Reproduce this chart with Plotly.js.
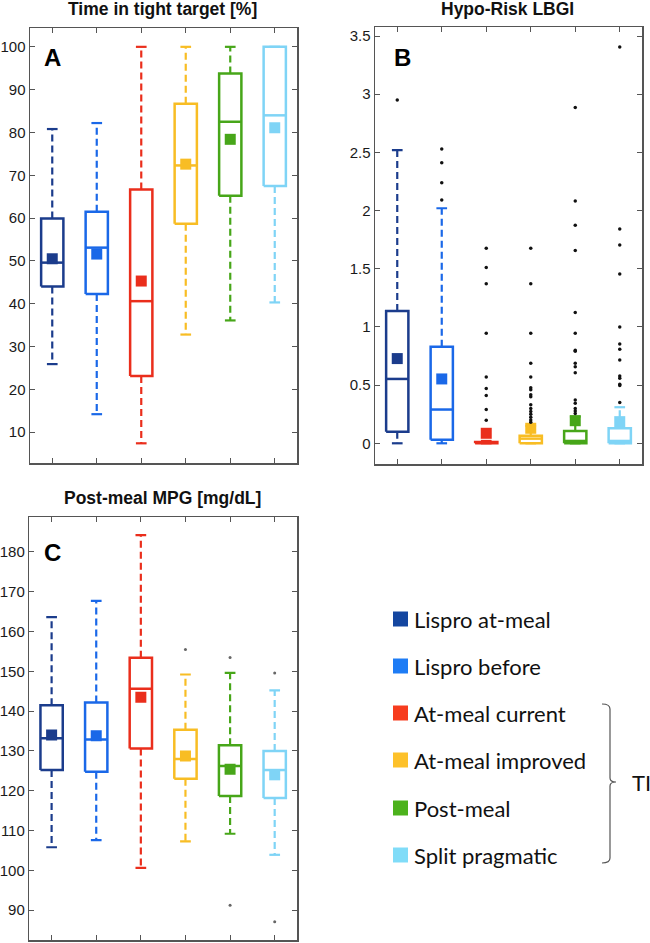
<!DOCTYPE html>
<html>
<head>
<meta charset="utf-8">
<script src="https://cdn.plot.ly/plotly-3.0.1.min.js"></script>
<style>html,body{margin:0;padding:0;background:#fff;}#chart{width:650px;height:943px;}</style>
</head>
<body>
<div id="chart"></div>
<script>
// ---------------- DATA ----------------
const categories = ['Lispro at-meal', 'Lispro before', 'At-meal current', 'At-meal improved', 'Post-meal', 'Split pragmatic'];

// Panel A: Time in tight target [%]
const ttLow  = [25.9, 14.2, 7.4, 32.8, 36.1, 40.3];
const ttQ1   = [44.0, 42.3, 23.1, 58.7, 65.2, 67.5];
const ttMed  = [49.6, 53.1, 40.6, 72.3, 82.5, 84.0];
const ttQ3   = [59.9, 61.5, 66.7, 86.7, 93.8, 100];
const ttHigh = [80.8, 82.2, 100, 100, 100, 100];
const ttMean = [50.5, 51.6, 45.3, 72.6, 78.4, 81.1];
const ttOut  = [[], [], [], [], [], []];

// Panel B: Hypo-Risk LBGI
const lbLow  = [0, 0, 0, 0, 0, 0];
const lbQ1   = [0.10, 0.03, 0, 0, 0, 0];
const lbMed  = [0.553, 0.29, 0.005, 0.04, 0.02, 0.02];
const lbQ3   = [1.137, 0.83, 0.012, 0.065, 0.105, 0.13];
const lbHigh = [2.52, 2.02, 0.02, 0.15, 0.23, 0.31];
const lbMean = [0.728, 0.553, 0.086, 0.129, 0.194, 0.186];
const lbOut1 = [2.95];
const lbOut2 = [2.53, 2.41, 2.24, 2.09];
const lbOut3 = [1.676, 1.51, 1.372, 0.945, 0.57, 0.47, 0.41, 0.29, 0.198];
const lbOut4 = [1.676, 1.372, 0.945, 0.687, 0.57, 0.478, 0.46, 0.417, 0.40, 0.331, 0.30, 0.274, 0.25, 0.223, 0.20, 0.18];
const lbOut5 = [2.885, 2.083, 1.873, 1.656, 1.123, 0.945, 0.80, 0.79, 0.687, 0.657, 0.607, 0.372, 0.344, 0.30, 0.277, 0.257];
const lbOut6 = [3.406, 1.842, 1.704, 1.455, 1.0, 0.854, 0.808, 0.716, 0.579, 0.559, 0.507, 0.496, 0.351];
const lbOut  = [lbOut1, lbOut2, lbOut3, lbOut4, lbOut5, lbOut6];

// Panel C: Post-meal MPG [mg/dL]
const mpgLow  = [105.8, 107.6, 100.6, 107.3, 109.2, 103.9];
const mpgQ1   = [125.2, 124.8, 130.6, 123.0, 118.7, 118.2];
const mpgMed  = [133.2, 132.9, 145.6, 128.0, 126.2, 125.2];
const mpgQ3   = [141.5, 142.2, 153.4, 135.3, 131.4, 130.0];
const mpgHigh = [163.6, 167.7, 184.2, 149.2, 149.6, 145.2];
const mpgMean = [134.0, 133.8, 143.5, 128.7, 125.4, 124.0];
const mpgOut  = [[], [], [], [155.5], [153.5, 91.2], [149.6, 87.1]];

const panelTitles = ['Time in tight target [%]', 'Hypo-Risk LBGI', 'Post-meal MPG [mg/dL]'];
const panelLetters = ['A', 'B', 'C'];
const bracketLabel = 'TI';

// ---------------- STYLE ----------------
const boxColors    = ['#1b3c8c', '#1a68e8', '#ea2e1c', '#f8bd24', '#47a619', '#7fd4f6'];
const legendColors = ['#1446a0', '#1e7cf5', '#f73c1e', '#fdc12a', '#4cb21c', '#80dcf8'];
const W = 650, H = 943;
const px = x => x / W;
const py = y => 1 - y / H;
const BOXW = 0.25, CAPW = 0.12;

const traces = [];
function addPanel(xa, ya, low, q1, med, q3, high, mean, outs, outColor, outSize) {
  for (let i = 0; i < categories.length; i++) {
    const x = i + 1, c = boxColors[i];
    // dashed whiskers
    traces.push({x: [x, x, null, x, x], y: [q3[i], high[i], null, q1[i], low[i]], xaxis: xa, yaxis: ya,
      mode: 'lines', line: {color: c, width: 2.2, dash: '7px,4px'}, hoverinfo: 'skip', showlegend: false});
    // caps
    traces.push({x: [x - CAPW, x + CAPW, null, x - CAPW, x + CAPW], y: [high[i], high[i], null, low[i], low[i]],
      xaxis: xa, yaxis: ya, mode: 'lines', line: {color: c, width: 2.2}, hoverinfo: 'skip', showlegend: false});
    // box
    traces.push({x: [x - BOXW, x + BOXW, x + BOXW, x - BOXW, x - BOXW], y: [q1[i], q1[i], q3[i], q3[i], q1[i]],
      xaxis: xa, yaxis: ya, mode: 'lines', fill: 'toself', fillcolor: '#ffffff',
      line: {color: c, width: 2.5}, hoverinfo: 'skip', showlegend: false});
    // median
    traces.push({x: [x - BOXW, x + BOXW], y: [med[i], med[i]], xaxis: xa, yaxis: ya,
      mode: 'lines', line: {color: c, width: 2.5}, hoverinfo: 'skip', showlegend: false});
    // mean
    traces.push({x: [x], y: [mean[i]], xaxis: xa, yaxis: ya, mode: 'markers',
      marker: {symbol: 'square', size: 11, color: c}, hoverinfo: 'skip', showlegend: false});
    // outliers
    if (outs[i].length) {
      traces.push({x: outs[i].map(() => x), y: outs[i], xaxis: xa, yaxis: ya, mode: 'markers',
        marker: {size: outSize, color: outColor}, hoverinfo: 'skip', showlegend: false});
    }
  }
}
addPanel('x', 'y', ttLow, ttQ1, ttMed, ttQ3, ttHigh, ttMean, ttOut, '#111', 3.5);
addPanel('x2', 'y2', lbLow, lbQ1, lbMed, lbQ3, lbHigh, lbMean, lbOut, '#111', 3.5);
addPanel('x3', 'y3', mpgLow, mpgQ1, mpgMed, mpgQ3, mpgHigh, mpgMean, mpgOut, '#666', 3);

const tickFont = {family: 'Liberation Sans, Arial, sans-serif', size: 15, color: '#1a1a1a'};
function xAx(domain, anchor) {
  return {domain: domain, anchor: anchor, range: [0.5, 6.5], tickvals: [1, 2, 3, 4, 5, 6],
    showticklabels: false, ticks: 'inside', ticklen: 5, tickcolor: '#555', tickwidth: 1,
    showline: true, linecolor: '#555', linewidth: 1.5, mirror: 'ticks', showgrid: false, zeroline: false, fixedrange: true};
}
function yAx(domain, anchor, range, tick0, dtick) {
  return {domain: domain, anchor: anchor, range: range, tick0: tick0, dtick: dtick,
    ticks: 'inside', ticklen: 5, tickcolor: '#555', tickwidth: 1, tickfont: tickFont, ticklabelstandoff: 0,
    showline: true, linecolor: '#555', linewidth: 1.5, mirror: 'ticks', showgrid: false, zeroline: false, fixedrange: true};
}

const annotations = [];
const titlePos = [[162, 9], [507, 9], [163, 498]];
panelTitles.forEach((t, k) => annotations.push({xref: 'paper', yref: 'paper', x: px(titlePos[k][0]), y: py(titlePos[k][1]),
  xanchor: 'center', yanchor: 'middle', showarrow: false, text: '<b>' + t + '</b>',
  font: {family: 'Liberation Sans, Arial, sans-serif', size: 17.5, color: '#111'}}));
const letterPos = [[53, 57], [402, 57], [53, 552]];
panelLetters.forEach((t, k) => annotations.push({xref: 'paper', yref: 'paper', x: px(letterPos[k][0]), y: py(letterPos[k][1]),
  xanchor: 'center', yanchor: 'middle', showarrow: false, text: '<b>' + t + '</b>',
  font: {family: 'Liberation Sans, Arial, sans-serif', size: 24, color: '#000'}}));

// legend (drawn manually)
const shapes = [];
const rowY = [619, 666, 713, 760, 808, 855];
categories.forEach((c, i) => {
  shapes.push({type: 'rect', xref: 'paper', yref: 'paper', x0: px(393), x1: px(408), y0: py(rowY[i] + 7.5), y1: py(rowY[i] - 7.5),
    fillcolor: legendColors[i], line: {width: 0}});
  annotations.push({xref: 'paper', yref: 'paper', x: px(412), y: py(rowY[i]), xanchor: 'left', yanchor: 'middle',
    showarrow: false, text: c, font: {family: 'Lato, Noto Sans, sans-serif', size: 22, color: '#111'}});
});
// bracket
const bp = (x, y) => px(x).toFixed(5) + ',' + py(y).toFixed(5);
shapes.push({type: 'path', xref: 'paper', yref: 'paper',
  path: 'M' + bp(602, 704) + ' Q' + bp(610, 704) + ' ' + bp(610, 709) + ' L' + bp(610, 778) +
        ' Q' + bp(610, 782) + ' ' + bp(616, 782) + ' Q' + bp(610, 782) + ' ' + bp(610, 786) +
        ' L' + bp(610, 858) + ' Q' + bp(610, 863) + ' ' + bp(602, 863),
  line: {color: '#555', width: 1.2}});
annotations.push({xref: 'paper', yref: 'paper', x: px(630), y: py(782), xanchor: 'left', yanchor: 'middle',
  showarrow: false, text: bracketLabel, font: {family: 'Lato, Noto Sans, sans-serif', size: 22, color: '#111'}});

const layout = {
  width: W, height: H, margin: {l: 0, r: 0, t: 0, b: 0}, paper_bgcolor: '#fff', plot_bgcolor: '#fff',
  showlegend: false,
  xaxis: xAx([px(30), px(297)], 'y'),
  yaxis: yAx([py(463), py(28)], 'x', [2.8, 104.4], 0, 10),
  xaxis2: xAx([px(375), px(642)], 'y2'),
  yaxis2: yAx([py(464), py(27.3)], 'x2', [-0.178, 3.575], 0, 0.5),
  xaxis3: xAx([px(29.3), px(297)], 'y3'),
  yaxis3: yAx([py(940), py(517.3)], 'x3', [82.5, 188.7], 0, 10),
  annotations: annotations, shapes: shapes
};
Plotly.newPlot('chart', traces, layout, {displayModeBar: false, staticPlot: true});
</script>
</body>
</html>
